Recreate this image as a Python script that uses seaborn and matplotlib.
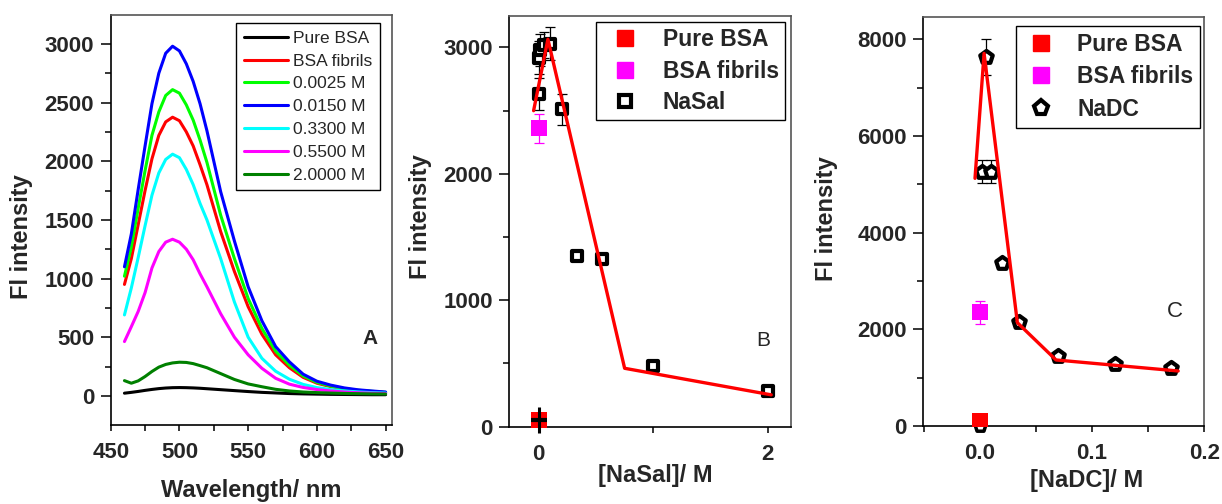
import matplotlib.pyplot as plt
from matplotlib.lines import Line2D
from matplotlib.ticker import MultipleLocator
import pandas as pd
import seaborn as sns

# ---- panel A: emission spectra ----
wavelengths = [460, 465, 470, 475, 480, 485, 490, 495, 500, 505, 510, 515, 520,
               530, 540, 550, 560, 570, 580, 590, 600, 610, 620, 630, 640, 650]
pureBsa = [23, 30, 38, 47, 55, 62, 67, 70, 71, 70, 68, 65, 61,
           53, 45, 37, 30, 25, 20, 17, 15, 13, 12, 11, 10, 10]
bsaFibrils = [950, 1170, 1460, 1750, 2020, 2220, 2335, 2375, 2345, 2250, 2130, 1970, 1800,
              1400, 1060, 760, 525, 350, 240, 158, 108, 79, 58, 45, 36, 28]
nasal0025 = [1020, 1270, 1600, 1920, 2220, 2420, 2560, 2610, 2580, 2480, 2350, 2180, 1990,
             1540, 1170, 830, 575, 380, 262, 170, 115, 84, 62, 48, 39, 30]
nasal0150 = [1100, 1380, 1760, 2130, 2490, 2750, 2920, 2980, 2940, 2830, 2680, 2490, 2260,
             1740, 1320, 930, 640, 420, 290, 185, 125, 92, 68, 52, 42, 33]
nasal3300 = [690, 920, 1180, 1450, 1710, 1900, 2015, 2060, 2030, 1930, 1800, 1640, 1500,
             1170, 800, 500, 320, 210, 142, 98, 71, 54, 42, 34, 28, 24]
nasal5500 = [463, 590, 720, 880, 1090, 1230, 1310, 1335, 1310, 1250, 1160, 1040, 930,
             700, 500, 350, 235, 150, 100, 72, 54, 42, 33, 27, 23, 20]
nasal20000 = [130, 108, 128, 165, 208, 245, 268, 281, 287, 285, 275, 258, 240,
              190, 140, 102, 78, 56, 42, 33, 28, 24, 21, 19, 17, 16]

sampleNames = ["Pure BSA", "BSA fibrils", "0.0025 M", "0.0150 M", "0.3300 M", "0.5500 M", "2.0000 M"]
sampleColors = ["black", "red", "#00ff00", "blue", "cyan", "magenta", "green"]

# ---- panel B: NaSal ----
nasalConc = [0.0025, 0.005, 0.01, 0.05, 0.1, 0.2, 0.33, 0.55, 1.0, 2.0]
nasalFI = [2630, 2920, 2980, 3020, 3030, 2510, 1350, 1330, 480, 280]
nasalErr = [125, 130, 130, 100, 130, 125, 40, 40, 20, 20]
nasalFitX = [-0.045, 0.08, 0.75, 2.03]
nasalFitY = [2500, 3065, 462, 252]
pureFiB = 53
fibrilFiB = 2360
fibrilErrB = 115

# ---- panel C: NaDC ----
nadcConc = [0.002, 0.005, 0.01, 0.02, 0.035, 0.07, 0.12, 0.17]
nadcFI = [5260, 7630, 5260, 3380, 2145, 1455, 1283, 1193]
nadcErr = [240, 370, 240, 60, 60, 40, 40, 40]
nadcFitX = [-0.0045, 0.0036, 0.0333, 0.0678, 0.1768]
nadcFitY = [5124, 7710, 2138, 1366, 1138]
pureFiC = 100
fibrilFiC = 2350
fibrilErrC = 230

sns.set_theme(style="ticks")
plt.rcParams['font.family'] = ['Liberation Sans', 'DejaVu Sans']
plt.rcParams['font.weight'] = 'bold'

fig = plt.figure(figsize=(12.22, 5.04), dpi=100)
axA = fig.add_axes([0.0906, 0.157, 0.2299, 0.813])
axB = fig.add_axes([0.4168, 0.1534, 0.2305, 0.8146])
axC = fig.add_axes([0.7556, 0.1548, 0.2299, 0.8122])

# panel A
spectraDf = pd.DataFrame({
    "Wavelength": wavelengths * len(sampleNames),
    "Intensity": pureBsa + bsaFibrils + nasal0025 + nasal0150 + nasal3300 + nasal5500 + nasal20000,
    "Sample": [n for n in sampleNames for _ in wavelengths],
})
sns.lineplot(data=spectraDf, x="Wavelength", y="Intensity", hue="Sample", hue_order=sampleNames,
             palette=dict(zip(sampleNames, sampleColors)), linewidth=2.2, legend=False, ax=axA)
axA.set_xlim(450, 654.4)
axA.set_ylim(-247, 3245)
axA.xaxis.set_major_locator(MultipleLocator(50))
axA.xaxis.set_minor_locator(MultipleLocator(25))
axA.yaxis.set_major_locator(MultipleLocator(500))
axA.yaxis.set_minor_locator(MultipleLocator(250))
handlesA = [Line2D([], [], color=c, lw=2.2) for c in sampleColors]
legA = axA.legend(handlesA, sampleNames, loc="upper right", bbox_to_anchor=(0.959, 0.981),
                  borderaxespad=0, handlelength=2.55, handletextpad=0.3,
                  labelspacing=0.44, borderpad=0.45, fancybox=False, edgecolor="black",
                  framealpha=1, prop={"weight": "normal", "size": 12.5})
legA.get_frame().set_linewidth(1.0)
axA.text(0.923, 0.212, "A", transform=axA.transAxes, fontsize=15, fontweight="bold",
         ha="center", va="center")
axA.set_xlabel("Wavelength/ nm", fontsize=17, fontweight="bold")
axA.set_ylabel("Fl intensity", fontsize=17, fontweight="bold")
axA.xaxis.set_label_coords(0.5, -0.132)
axA.yaxis.set_label_coords(-0.275, 0.459)

# panel B
axB.errorbar(nasalConc, nasalFI, yerr=nasalErr, fmt="none", ecolor="black", elinewidth=0.9,
             capsize=3.6, capthick=0.9, zorder=2)
axB.errorbar([0], [fibrilFiB], yerr=[fibrilErrB], fmt="none", ecolor="magenta", elinewidth=0.9,
             capsize=3.6, capthick=0.9, zorder=2)
sns.scatterplot(x=[0], y=[pureFiB], marker="s", s=135, color="red", linewidth=0, ax=axB, zorder=3)
sns.scatterplot(x=[0], y=[fibrilFiB], marker="s", s=135, color="magenta", linewidth=0, ax=axB, zorder=3)
axB.errorbar([0], [pureFiB], yerr=[105], fmt="_", color="black", markersize=12, mew=3,
             elinewidth=2.2, capsize=0, zorder=4, clip_on=False)
sns.scatterplot(x=nasalConc, y=nasalFI, marker="s", s=55, color="white", edgecolor="black",
                linewidth=3, ax=axB, zorder=3)
sns.lineplot(x=nasalFitX, y=nasalFitY, color="red", linewidth=2.4, sort=False, ax=axB, zorder=5)
axB.set_xlim(-0.257, 2.203)
axB.set_ylim(0, 3248)
axB.xaxis.set_major_locator(MultipleLocator(2))
axB.xaxis.set_minor_locator(MultipleLocator(1))
axB.yaxis.set_major_locator(MultipleLocator(1000))
axB.yaxis.set_minor_locator(MultipleLocator(500))
handlesB = [Line2D([], [], ls="", marker="s", ms=11.5, color="red", mec="red"),
            Line2D([], [], ls="", marker="s", ms=11.5, color="magenta", mec="magenta"),
            Line2D([], [], ls="", marker="s", ms=8, mfc="white", mec="black", mew=3)]
legB = axB.legend(handlesB, ["Pure BSA", "BSA fibrils", "NaSal"], loc="upper right",
                  bbox_to_anchor=(0.978, 0.985), borderaxespad=0, handlelength=2.0,
                  handletextpad=0.65, labelspacing=0.38, borderpad=0.25, fancybox=False,
                  edgecolor="black", framealpha=1, prop={"weight": "bold", "size": 16.5})
legB.get_frame().set_linewidth(1.0)
axB.text(0.90, 0.211, "B", transform=axB.transAxes, fontsize=15, fontweight="normal",
         ha="center", va="center")
axB.set_xlabel("[NaSal]/ M", fontsize=17, fontweight="bold")
axB.set_ylabel("Fl intensity", fontsize=17, fontweight="bold")
axB.xaxis.set_label_coords(0.52, -0.091)
axB.yaxis.set_label_coords(-0.275, 0.511)

# panel C
axC.errorbar(nadcConc, nadcFI, yerr=nadcErr, fmt="none", ecolor="black", elinewidth=0.9,
             capsize=3.6, capthick=0.9, zorder=2)
axC.errorbar([0], [fibrilFiC], yerr=[fibrilErrC], fmt="none", ecolor="magenta", elinewidth=0.9,
             capsize=3.6, capthick=0.9, zorder=2)
sns.scatterplot(x=[0], y=[0], marker="p", s=70, color="white", edgecolor="black",
                linewidth=2.5, ax=axC, zorder=2.5, clip_on=False)
sns.scatterplot(x=[0], y=[pureFiC], marker="s", s=120, color="red", linewidth=0, ax=axC, zorder=3)
sns.scatterplot(x=[0], y=[fibrilFiC], marker="s", s=120, color="magenta", linewidth=0, ax=axC, zorder=3)
sns.scatterplot(x=nadcConc, y=nadcFI, marker="p", s=90, color="white", edgecolor="black",
                linewidth=3, ax=axC, zorder=3)
sns.lineplot(x=nadcFitX, y=nadcFitY, color="red", linewidth=2.4, sort=False, ax=axC, zorder=5)
axC.set_xlim(-0.0506, 0.2001)
axC.set_ylim(0, 8470)
axC.xaxis.set_major_locator(MultipleLocator(0.1))
axC.xaxis.set_minor_locator(MultipleLocator(0.05))
axC.yaxis.set_major_locator(MultipleLocator(2000))
axC.yaxis.set_minor_locator(MultipleLocator(1000))
handlesC = [Line2D([], [], ls="", marker="s", ms=11, color="red", mec="red"),
            Line2D([], [], ls="", marker="s", ms=11, color="magenta", mec="magenta"),
            Line2D([], [], ls="", marker="p", ms=11, mfc="white", mec="black", mew=3)]
legC = axC.legend(handlesC, ["Pure BSA", "BSA fibrils", "NaDC"], loc="upper right",
                  bbox_to_anchor=(0.985, 0.976), borderaxespad=0, handlelength=1.55,
                  handletextpad=0.8, labelspacing=0.4, borderpad=0.3, fancybox=False,
                  edgecolor="black", framealpha=1, prop={"weight": "bold", "size": 16.5})
legC.get_frame().set_linewidth(1.0)
axC.text(0.896, 0.279, "C", transform=axC.transAxes, fontsize=16, fontweight="normal",
         ha="center", va="center")
axC.set_xlabel("[NaDC]/ M", fontsize=17, fontweight="bold")
axC.set_ylabel("Fl intensity", fontsize=17, fontweight="bold")
axC.xaxis.set_label_coords(0.58, -0.105)
axC.yaxis.set_label_coords(-0.302, 0.507)

for ax in [axA, axB, axC]:
    ax.tick_params(which="both", direction="out", width=1.1, color="black",
                   labelsize=16, top=False, right=False)
    ax.tick_params(axis="y", which="major", length=7, pad=5)
    ax.tick_params(axis="y", which="minor", length=4)
    ax.tick_params(axis="x", which="major", length=4.5, pad=8)
    ax.tick_params(axis="x", which="minor", length=4.5)
    for side in ["left", "bottom"]:
        ax.spines[side].set_color("black")
        ax.spines[side].set_linewidth(1.2)
    for side in ["top", "right"]:
        ax.spines[side].set_color("#555555")
        ax.spines[side].set_linewidth(1.2)
    ax.grid(False)

fig.savefig("out.png", dpi=100)
